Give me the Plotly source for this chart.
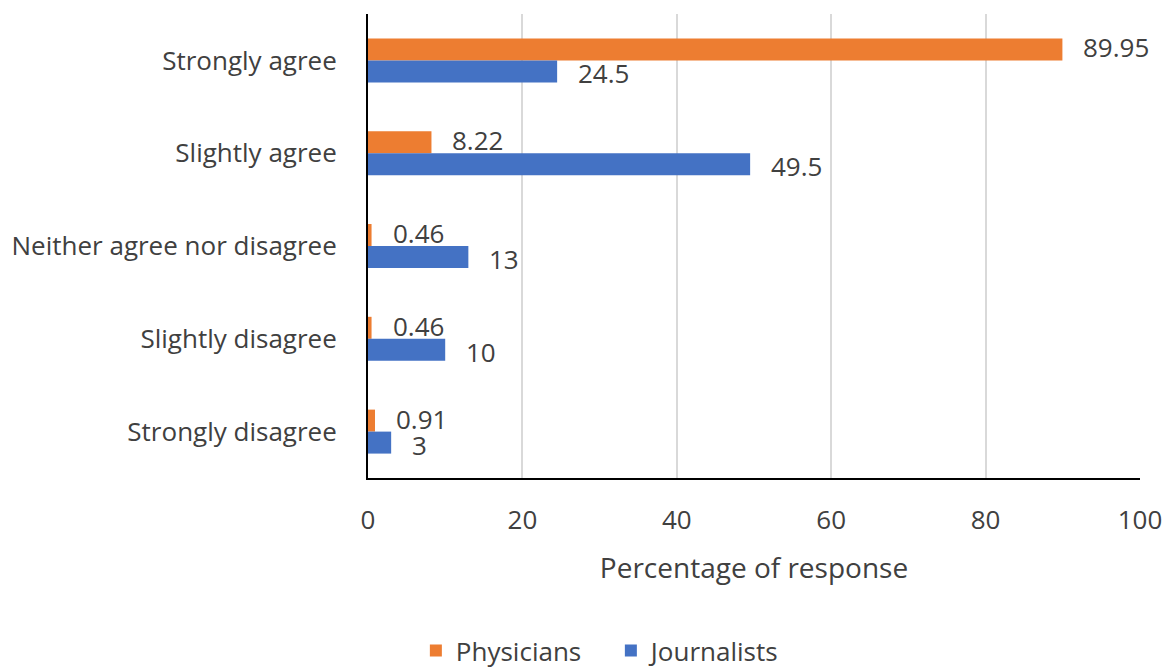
import plotly.graph_objects as go

categories = ["Strongly agree", "Slightly agree", "Neither agree nor disagree",
              "Slightly disagree", "Strongly disagree"]
physicians = [89.95, 8.22, 0.46, 0.46, 0.91]
journalists = [24.5, 49.5, 13, 10, 3]
x_ticks = [0, 20, 40, 60, 80, 100]

ORANGE = "#ED7D31"
BLUE = "#4472C4"
TXT = "#404040"
FONT = "Open Sans"

fig = go.Figure()
fig.add_trace(go.Bar(y=categories, x=physicians, orientation="h", name="Physicians",
                     marker=dict(color=ORANGE, line=dict(width=0))))
fig.add_trace(go.Bar(y=categories, x=journalists, orientation="h", name="Journalists",
                     marker=dict(color=BLUE, line=dict(width=0))))

annotations = []
for cat, v in zip(categories, physicians):
    annotations.append(dict(x=v, y=cat, xref="x", yref="y", text=str(v), showarrow=False,
                            xanchor="left", yanchor="middle", xshift=19, yshift=13,
                            font=dict(size=26, color=TXT, family=FONT)))
for cat, v in zip(categories, journalists):
    annotations.append(dict(x=v, y=cat, xref="x", yref="y", text=str(v), showarrow=False,
                            xanchor="left", yanchor="middle", xshift=19, yshift=-13,
                            font=dict(size=26, color=TXT, family=FONT)))

fig.update_layout(
    width=1164, height=668,
    margin=dict(l=368, r=24, t=14, b=190, autoexpand=False),
    paper_bgcolor="white", plot_bgcolor="white",
    barmode="group", bargap=0.526, bargroupgap=0,
    font=dict(family=FONT, size=26, color=TXT),
    annotations=annotations,
    showlegend=True,
    legend=dict(orientation="h", x=0.062, xanchor="left", y=-0.372, yanchor="middle",
                font=dict(size=26, color=TXT, family=FONT), itemwidth=30,
                entrywidth=150, entrywidthmode="pixels",
                traceorder="normal"),
)
fig.update_xaxes(range=[0, 100], tickvals=x_ticks, showgrid=True, gridcolor="#D9D9D9",
                 gridwidth=1.5, showline=True, linecolor="black", linewidth=2,
                 zeroline=False, ticks="", tickfont=dict(size=26, color=TXT),
                 ticklabelstandoff=18,
                 title=dict(text="Percentage of response", font=dict(size=28, color=TXT),
                            standoff=22))
fig.update_yaxes(autorange="reversed", showline=True, linecolor="black", linewidth=2,
                 showgrid=False, ticks="", tickfont=dict(size=26, color=TXT),
                 ticklabelstandoff=24)

fig.write_html("out.html")
